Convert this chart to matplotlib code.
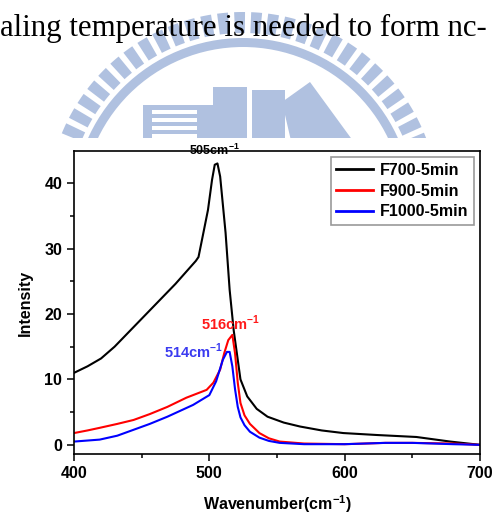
import matplotlib
matplotlib.use('Agg')
import matplotlib.pyplot as plt
from matplotlib.patches import Wedge, Rectangle, Polygon
from matplotlib.ticker import MultipleLocator
import numpy as np

plt.rcParams['font.family'] = ['Liberation Sans', 'DejaVu Sans']
plt.rcParams['font.weight'] = 'bold'
plt.rcParams['axes.labelweight'] = 'bold'
plt.rcParams['mathtext.fontset'] = 'custom'
plt.rcParams['mathtext.rm'] = 'Liberation Sans:bold'
plt.rcParams['mathtext.bf'] = 'Liberation Sans:bold'

# Raman spectra (intensity vs wavenumber)
wn_700 = [400, 410, 420, 430, 445, 460, 475, 490, 492, 496, 499, 502, 504, 506,
          508, 512, 515, 518, 523, 528, 535, 543, 555, 567, 583, 599, 624, 653, 678, 700]
int_700 = [11.0, 12.0, 13.2, 15.0, 18.2, 21.4, 24.6, 28.1, 28.7, 32.8, 35.9, 40.5, 42.8, 43.0,
           41.0, 32.4, 23.7, 17.5, 10.0, 7.4, 5.5, 4.3, 3.4, 2.8, 2.2, 1.8, 1.5, 1.2, 0.5, 0.0]

wn_900 = [400, 410, 419, 432, 444, 456, 469, 483, 498, 503, 508, 511, 514, 517,
          519, 521, 523, 526, 530, 537, 544, 552, 570, 600, 630, 650, 680, 700]
int_900 = [1.8, 2.2, 2.6, 3.2, 3.8, 4.7, 5.8, 7.2, 8.4, 9.5, 11.5, 14.0, 16.0, 16.8,
           14.0, 9.5, 6.4, 4.5, 3.2, 1.8, 1.0, 0.5, 0.2, 0.1, 0.3, 0.3, 0.2, 0.0]

wn_1000 = [400, 419, 432, 444, 456, 469, 488, 500, 505, 510, 513, 515, 517,
           519, 521, 523, 526, 530, 537, 544, 552, 570, 600, 630, 650, 680, 700]
int_1000 = [0.5, 0.8, 1.4, 2.3, 3.2, 4.3, 6.1, 7.6, 9.7, 13.0, 14.2, 14.2, 12.0,
            8.5, 5.8, 4.2, 3.0, 2.0, 1.1, 0.6, 0.3, 0.1, 0.1, 0.3, 0.3, 0.1, 0.0]

series_labels = ['F700-5min', 'F900-5min', 'F1000-5min']
peak_labels = ['505', '516', '514']
peak_pos = [(504, 45.0), (516, 18.6), (488, 14.3)]

W, H = 494, 517
fig = plt.figure(figsize=(W / 100, H / 100), dpi=100)
fig.patch.set_facecolor('white')

# --- background page: watermark logo (clipped where the figure image starts) ---
wm_top = 138
bg = fig.add_axes([0, 1 - wm_top / H, 1, wm_top / H], zorder=-5)
bg.set_xlim(0, W)
bg.set_ylim(wm_top, 0)
bg.axis('off')
wm = '#b0c1e0'
cx, cy = 243, 208
# y axis is flipped, so the upper half of the ring lies at angles 180..360
for a in np.arange(21, 161, 5.0):
    bg.add_patch(Wedge((cx, cy), 196, 360 - a - 1.6, 360 - a + 1.6, width=21, color=wm, lw=0))
bg.add_patch(Wedge((cx, cy), 170, 180, 360, width=9, color=wm, lw=0))
bg.add_patch(Rectangle((143, 105), 70, 40, color=wm, lw=0))
for yy in [110, 118, 126, 134]:
    bg.add_patch(Rectangle((152, yy), 45, 3.5, color='white', lw=0))
bg.add_patch(Rectangle((213, 87), 34, 60, color=wm, lw=0))
bg.add_patch(Rectangle((252, 90), 33, 60, color=wm, lw=0))
bg.add_patch(Polygon([(282, 102), (310, 82), (356, 145), (292, 145)], color=wm, lw=0))

fig.text(0.0, 1 - 36 / H, 'aling temperature is needed to form nc-',
         family='Liberation Serif', weight='normal', fontsize=22.2,
         ha='left', va='baseline', color='black')

# --- spectrum plot ---
ax = fig.add_axes([74 / W, 1 - 454 / H, 406 / W, 303 / H], zorder=1)
ax.set_facecolor('white')
ax.plot(wn_700, int_700, color='black', lw=1.5, label=series_labels[0])
ax.plot(wn_900, int_900, color='red', lw=1.5, label=series_labels[1])
ax.plot(wn_1000, int_1000, color='blue', lw=1.5, label=series_labels[2])

ax.set_xlim(400, 700)
ax.set_ylim(-1.4, 44.9)
ax.xaxis.set_major_locator(MultipleLocator(100))
ax.xaxis.set_minor_locator(MultipleLocator(50))
ax.yaxis.set_major_locator(MultipleLocator(10))
ax.yaxis.set_minor_locator(MultipleLocator(5))
ax.tick_params(which='both', direction='out', top=False, right=False, labelsize=11.5, width=1.1)
ax.tick_params(which='major', length=5)
ax.tick_params(which='minor', length=3)
for lab in ax.get_xticklabels() + ax.get_yticklabels():
    lab.set_fontweight('bold')
for s in ax.spines.values():
    s.set_linewidth(1.2)

ax.set_xlabel(r'Wavenumber(cm$^{-1}$)', fontsize=11.5, fontweight='bold', labelpad=9)
ax.set_ylabel('Intensity', fontsize=11.5, fontweight='bold', labelpad=8)

ax.text(*peak_pos[0], peak_labels[0] + r'cm$^{-1}$', color='black', fontsize=9,
        fontweight='bold', ha='center', va='center', clip_on=False)
ax.text(*peak_pos[1], peak_labels[1] + r'cm$^{-1}$', color='#ff1a1a', fontsize=10.5,
        fontweight='bold', ha='center', va='center')
ax.text(*peak_pos[2], peak_labels[2] + r'cm$^{-1}$', color='#3b3bf0', fontsize=10.5,
        fontweight='bold', ha='center', va='center')

leg = ax.legend(loc='upper right', fancybox=False, framealpha=1,
                prop={'size': 11.5, 'weight': 'bold'},
                edgecolor='#999999', handlelength=2.3, borderpad=0.35,
                labelspacing=0.35, handletextpad=0.4, borderaxespad=0.4)
leg.get_frame().set_linewidth(1.2)
for ln in leg.get_lines():
    ln.set_linewidth(2)

fig.savefig('out.png', dpi=100)
